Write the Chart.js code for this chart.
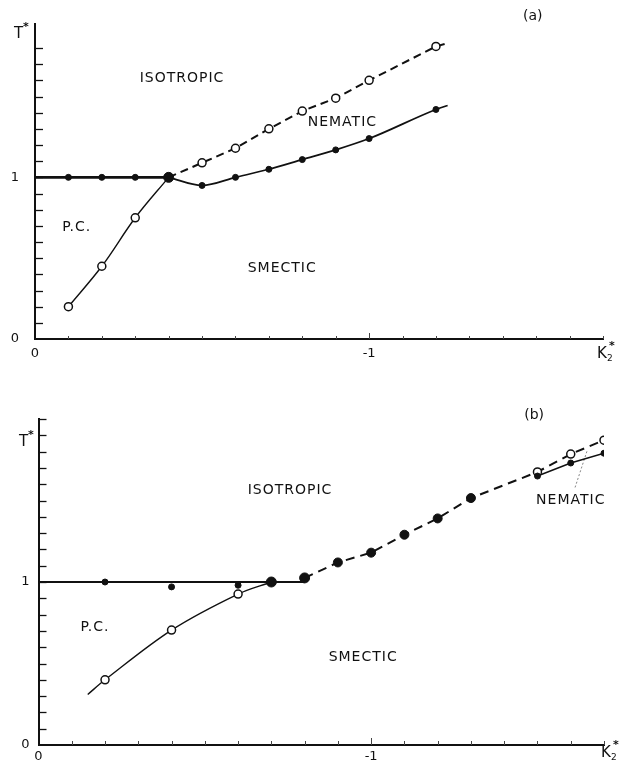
<!DOCTYPE html>
<html>
<head>
<meta charset="utf-8">
<script src="https://cdn.jsdelivr.net/npm/chart.js@4.4.1/dist/chart.umd.min.js"></script>
<style>
  html, body { margin: 0; padding: 0; background: #fff; }
  body { width: 621px; height: 771px; position: relative; overflow: hidden; }
  .panel { position: absolute; left: 0; width: 621px; }
  #pa { top: 0; height: 370px; }
  #pb { top: 370px; height: 401px; }
</style>
</head>
<body>
<div class="panel" id="pa"><canvas id="ca"></canvas></div>
<div class="panel" id="pb"><canvas id="cb"></canvas></div>
<script>
// ---------- (a) phase boundaries ----------
// plastic crystal / isotropic (filled) and plastic crystal / smectic (open)
const aPcIsoK = [-0.1, -0.2, -0.3];
const aPcIsoT = [1.0, 1.0, 1.0];
const aPcSmK  = [-0.1, -0.2, -0.3];
const aPcSmT  = [0.20, 0.45, 0.75];
// triple point
const aTripleK = [-0.4];
const aTripleT = [1.0];
// nematic / smectic (filled) and nematic / isotropic (open)
const aNsK = [-0.5, -0.6, -0.7, -0.8, -0.9, -1.0, -1.2];
const aNsT = [0.95, 1.00, 1.05, 1.11, 1.17, 1.24, 1.42];
const aNiK = [-0.5, -0.6, -0.7, -0.8, -0.9, -1.0, -1.2];
const aNiT = [1.09, 1.18, 1.30, 1.41, 1.49, 1.60, 1.81];
// where the drawn curves start / stop
const aFlatStartK = [0];      const aFlatStartT = [1.0];
const aNsEndK = [-1.235];     const aNsEndT = [1.445];
const aNiEndK = [-1.235];     const aNiEndT = [1.83];

// ---------- (b) phase boundaries ----------
const bPcIsoK = [-0.2, -0.4, -0.6];
const bPcIsoT = [1.00, 0.97, 0.98];
const bBigK   = [-0.7, -0.8];
const bBigT   = [1.00, 1.025];
const bPcSmK  = [-0.2, -0.4, -0.6];
const bPcSmT  = [0.40, 0.705, 0.926];
// smectic / isotropic
const bSiK = [-0.9, -1.0, -1.1, -1.2, -1.3];
const bSiT = [1.12, 1.18, 1.29, 1.39, 1.515];
// nematic / isotropic (open) and nematic / smectic (filled)
const bNiK = [-1.5, -1.6, -1.7];
const bNiT = [1.675, 1.785, 1.87];
const bNsK = [-1.5, -1.6, -1.7];
const bNsT = [1.65, 1.73, 1.79];
// drawn curve ends and the pointer to the nematic strip
const bFlatK = [0, -0.8];           const bFlatT = [1.0, 1.0];
const bPcStartK = [-0.148];         const bPcStartT = [0.31];
const bPcJoinK = [-0.7];            const bPcJoinT = [1.0];
const bDashEndK = [-1.72];          const bDashEndT = [1.9];
const bPointerK = [-1.613, -1.65];  const bPointerT = [1.58, 1.81];

// axis tick labels
const xLabelled = [0, -1];
const yLabelled = [0, 1];

const INK = '#111';
const FONT = '"DejaVu Sans", sans-serif';

const pts = (K, T) => K.map((k, i) => ({ x: k, y: T[i] }));

function curve(data, o = {}) {
  return {
    data, showLine: true, pointRadius: 0, pointHoverRadius: 0,
    borderColor: o.color || INK, borderWidth: o.width || 1.6,
    borderDash: o.dash || [], tension: o.tension || 0,
    cubicInterpolationMode: o.mono ? 'monotone' : 'default',
    fill: false, order: 2
  };
}
function marks(data, kind, r) {
  const open = kind === 'open';
  return {
    data, showLine: false, pointRadius: r, pointHoverRadius: r,
    pointBackgroundColor: open ? '#fff' : INK,
    pointBorderColor: INK, pointBorderWidth: open ? 1.5 : 1,
    order: 1
  };
}

// inward minor ticks every 0.1 plus axis names and region names
const decor = {
  id: 'decor',
  afterDraw(chart, args, o) {
    const { ctx, chartArea: a, scales: { x, y } } = chart;
    ctx.save();
    ctx.strokeStyle = INK;
    ctx.lineWidth = 1.3;
    y.ticks.forEach(t => {
      const v = Math.round(t.value * 10);
      if (Math.abs(t.value * 10 - v) > 1e-6 || v === 0) return;
      const py = Math.round(y.getPixelForValue(t.value)) + 0.5;
      ctx.beginPath(); ctx.moveTo(a.left, py); ctx.lineTo(a.left + o.yTick, py); ctx.stroke();
    });
    ctx.lineWidth = 1;
    ctx.strokeStyle = '#444';
    x.ticks.forEach(t => {
      const v = Math.round(t.value * 10);
      if (Math.abs(t.value * 10 - v) > 1e-6 || v === 0) return;
      const px = Math.round(x.getPixelForValue(t.value)) + 0.5;
      const len = v % 10 === 0 ? o.xTick + 3 : o.xTick;
      ctx.beginPath(); ctx.moveTo(px, a.bottom); ctx.lineTo(px, a.bottom - len); ctx.stroke();
    });

    ctx.fillStyle = INK;
    ctx.textBaseline = 'alphabetic';
    ctx.textAlign = 'left';
    // T*
    ctx.font = '15px ' + FONT;
    ctx.fillText('T', o.tPos[0], o.tPos[1]);
    ctx.font = 'bold 11px ' + FONT;
    ctx.fillText('*', o.tPos[0] + 9, o.tPos[1] - 8);
    // K2*
    ctx.font = '15px ' + FONT;
    ctx.fillText('K', o.kPos[0], o.kPos[1]);
    ctx.font = '9px ' + FONT;
    ctx.fillText('2', o.kPos[0] + 10, o.kPos[1] + 3);
    ctx.font = 'bold 11px ' + FONT;
    ctx.fillText('*', o.kPos[0] + 12, o.kPos[1] - 9);
    // panel tag
    ctx.font = '14px ' + FONT;
    ctx.textAlign = 'center';
    ctx.fillText(o.tag, x.getPixelForValue(o.tagAt[0]), y.getPixelForValue(o.tagAt[1]));
    // region names
    ctx.font = '14px ' + FONT;
    ctx.textBaseline = 'middle';
    if ('letterSpacing' in ctx) ctx.letterSpacing = '1px';
    o.regions.forEach(r => {
      ctx.fillText(r.text, x.getPixelForValue(r.at[0]), y.getPixelForValue(r.at[1]));
    });
    ctx.restore();
  }
};

function axes(yMax, yWidth, xHeight, yPad, xPad) {
  return {
    x: {
      type: 'linear', reverse: true, min: -1.7, max: 0,
      ticks: {
        stepSize: 0.1, autoSkip: false, maxRotation: 0, padding: xPad,
        color: INK, font: { family: FONT, size: 13 },
        callback: v => xLabelled.some(l => Math.abs(l - v) < 1e-6) ? (Math.abs(v) < 1e-6 ? '0' : String(Math.round(v))) : ''
      },
      grid: { display: false, drawTicks: false },
      border: { display: true, color: INK, width: 2 },
      afterFit: s => { s.height = xHeight; }
    },
    y: {
      type: 'linear', min: 0, max: yMax,
      ticks: {
        stepSize: 0.1, autoSkip: false, padding: yPad,
        color: INK, font: { family: FONT, size: 13 },
        callback: v => yLabelled.some(l => Math.abs(l - v) < 1e-6) ? String(Math.round(v)) : ''
      },
      grid: { display: false, drawTicks: false },
      border: { display: true, color: INK, width: 2 },
      afterFit: s => { s.width = yWidth; }
    }
  };
}

const common = {
  responsive: true, maintainAspectRatio: false, animation: false,
  events: [],
  plugins: { legend: { display: false }, tooltip: { enabled: false } }
};

// ---------- chart (a) ----------
const triA = pts(aTripleK, aTripleT);
new Chart(document.getElementById('ca'), {
  type: 'scatter',
  data: {
    datasets: [
      curve([...pts(aFlatStartK, aFlatStartT), ...pts(aPcIsoK, aPcIsoT), ...triA], { width: 2.6 }),
      curve([...pts(aPcSmK, aPcSmT), ...triA], { tension: 0.35, width: 1.4 }),
      curve([...triA, ...pts(aNsK, aNsT), ...pts(aNsEndK, aNsEndT)], { mono: true, width: 1.7 }),
      curve([...triA, ...pts(aNiK, aNiT), ...pts(aNiEndK, aNiEndT)], { dash: [8, 5], width: 2 }),
      marks(pts(aPcIsoK, aPcIsoT), 'filled', 3),
      marks(pts(aPcSmK, aPcSmT), 'open', 4),
      marks(pts(aNsK, aNsT), 'filled', 3),
      marks(pts(aNiK, aNiT), 'open', 4),
      marks(triA, 'filled', 5)
    ]
  },
  options: {
    ...common,
    layout: { padding: { left: 0, right: 18, top: 23, bottom: 0 } },
    scales: axes(1.95, 35, 31, 16, 7),
    plugins: {
      ...common.plugins,
      decor: {
        yTick: 8, xTick: 3,
        tPos: [14, 38], kPos: [597, 358],
        tag: '(a)', tagAt: [-1.49, 1.975],
        regions: [
          { text: 'ISOTROPIC', at: [-0.44, 1.61] },
          { text: 'NEMATIC',   at: [-0.92, 1.34] },
          { text: 'P.C.',      at: [-0.125, 0.69] },
          { text: 'SMECTIC',   at: [-0.74, 0.44] }
        ]
      }
    }
  },
  plugins: [decor]
});

// ---------- chart (b) ----------
const bigB = pts(bBigK, bBigT);
new Chart(document.getElementById('cb'), {
  type: 'scatter',
  data: {
    datasets: [
      curve(pts(bFlatK, bFlatT), { width: 2.2 }),
      curve([...pts(bPcStartK, bPcStartT), ...pts(bPcSmK, bPcSmT), ...pts(bPcJoinK, bPcJoinT)], { tension: 0.35, width: 1.4 }),
      curve([bigB[1], ...pts(bSiK, bSiT), ...pts(bNiK, bNiT), ...pts(bDashEndK, bDashEndT)], { dash: [9, 6], width: 2 }),
      curve(pts(bNsK, bNsT), { width: 1.5 }),
      curve(pts(bPointerK, bPointerT), { width: 0.8, color: '#666', dash: [2, 2] }),
      marks(pts(bPcIsoK, bPcIsoT), 'filled', 3),
      marks(pts(bPcSmK, bPcSmT), 'open', 4),
      marks(pts(bSiK, bSiT), 'filled', 4.5),
      marks(pts(bNsK, bNsT), 'filled', 3),
      marks(pts(bNiK, bNiT), 'open', 4),
      marks(bigB, 'filled', 5)
    ]
  },
  options: {
    ...common,
    layout: { padding: { left: 0, right: 17, top: 49, bottom: 0 } },
    scales: axes(2.0, 38.5, 26, 9, 4),
    plugins: {
      ...common.plugins,
      decor: {
        yTick: 8, xTick: 4,
        tPos: [19, 76], kPos: [601, 387],
        tag: '(b)', tagAt: [-1.49, 2.0],
        regions: [
          { text: 'ISOTROPIC', at: [-0.756, 1.56] },
          { text: 'NEMATIC',   at: [-1.6, 1.50] },
          { text: 'P.C.',      at: [-0.17, 0.72] },
          { text: 'SMECTIC',   at: [-0.976, 0.54] }
        ]
      }
    }
  },
  plugins: [decor]
});
</script>
</body>
</html>
